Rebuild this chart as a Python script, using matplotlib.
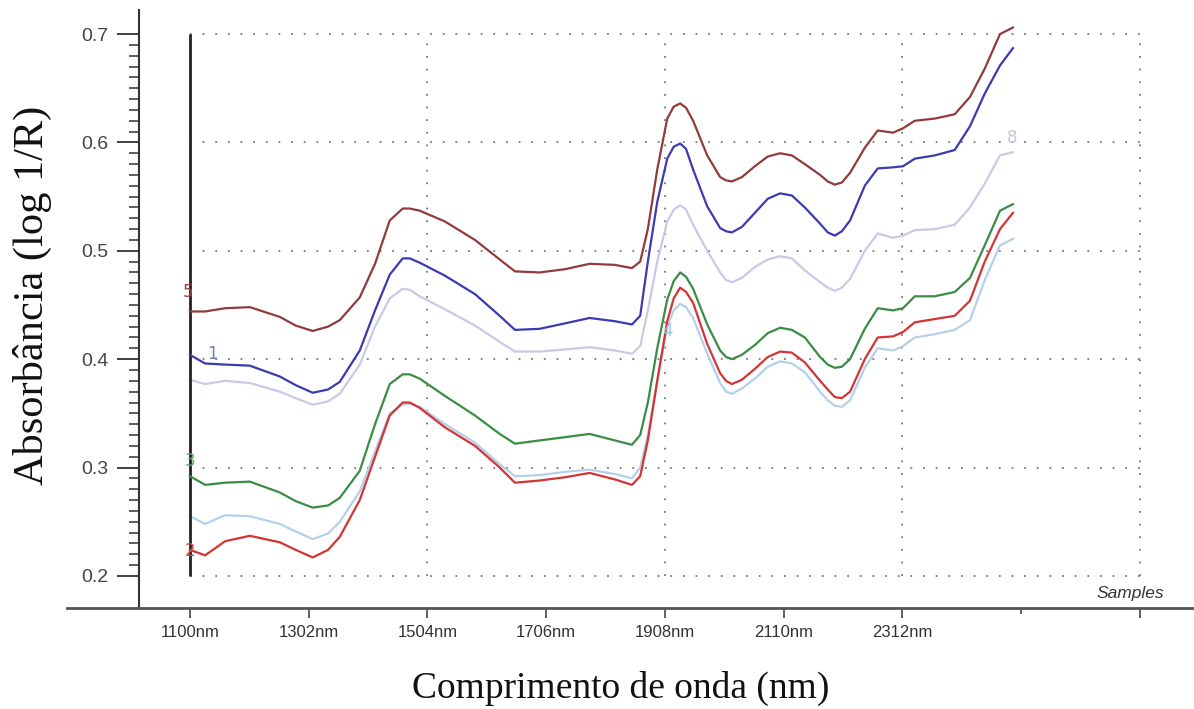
import matplotlib
matplotlib.use("Agg")
import matplotlib.pyplot as plt
from matplotlib.ticker import FixedLocator

# wavelengths (nm)
wl = [1100, 1126, 1160, 1202, 1253, 1280, 1309, 1335, 1355, 1389,
      1415, 1440, 1462, 1474, 1491, 1534, 1585, 1627, 1653, 1695,
      1738, 1780, 1823, 1852, 1866, 1879, 1895, 1912, 1923, 1934,
      1944, 1956, 1980, 2002, 2012, 2022, 2039, 2061, 2083, 2104,
      2124, 2146, 2172, 2185, 2197, 2209, 2223, 2248, 2270, 2296,
      2313, 2333, 2367, 2401, 2427, 2452, 2478, 2500]

s5 = [0.444, 0.444, 0.447, 0.448, 0.439, 0.431, 0.426, 0.430, 0.436, 0.457,
      0.488, 0.528, 0.539, 0.539, 0.537, 0.527, 0.510, 0.492, 0.481, 0.480,
      0.483, 0.488, 0.487, 0.484, 0.490, 0.520, 0.575, 0.622, 0.633, 0.636,
      0.632, 0.620, 0.588, 0.568, 0.565, 0.564, 0.568, 0.578, 0.587, 0.590,
      0.588, 0.580, 0.570, 0.564, 0.561, 0.563, 0.572, 0.595, 0.611, 0.609,
      0.613, 0.620, 0.622, 0.626, 0.642, 0.668, 0.700, 0.706]
s1 = [0.404, 0.396, 0.395, 0.394, 0.384, 0.376, 0.369, 0.372, 0.379, 0.408,
      0.445, 0.478, 0.493, 0.493, 0.489, 0.477, 0.460, 0.440, 0.427, 0.428,
      0.433, 0.438, 0.435, 0.432, 0.440, 0.490, 0.545, 0.585, 0.596, 0.599,
      0.594, 0.575, 0.541, 0.521, 0.518, 0.517, 0.522, 0.535, 0.548, 0.553,
      0.551, 0.540, 0.525, 0.517, 0.514, 0.518, 0.528, 0.560, 0.576, 0.577,
      0.578, 0.585, 0.588, 0.593, 0.615, 0.645, 0.671, 0.687]
s8 = [0.381, 0.377, 0.380, 0.378, 0.370, 0.364, 0.358, 0.361, 0.368, 0.395,
      0.430, 0.456, 0.465, 0.464, 0.458, 0.446, 0.431, 0.416, 0.407, 0.407,
      0.409, 0.411, 0.408, 0.405, 0.412, 0.445, 0.490, 0.527, 0.538, 0.542,
      0.538, 0.524, 0.500, 0.480, 0.473, 0.471, 0.475, 0.485, 0.492, 0.495,
      0.493, 0.482, 0.471, 0.466, 0.463, 0.466, 0.474, 0.500, 0.516, 0.512,
      0.514, 0.519, 0.520, 0.524, 0.540, 0.562, 0.588, 0.591]
s3 = [0.292, 0.284, 0.286, 0.287, 0.277, 0.269, 0.263, 0.265, 0.272, 0.297,
      0.340, 0.377, 0.386, 0.386, 0.382, 0.366, 0.348, 0.331, 0.322, 0.325,
      0.328, 0.331, 0.325, 0.321, 0.330, 0.360, 0.410, 0.455, 0.472, 0.480,
      0.476, 0.465, 0.432, 0.408, 0.402, 0.400, 0.404, 0.413, 0.424, 0.429,
      0.427, 0.420, 0.402, 0.395, 0.392, 0.393, 0.400, 0.428, 0.447, 0.445,
      0.447, 0.458, 0.458, 0.462, 0.475, 0.505, 0.537, 0.543]
s4 = [0.255, 0.248, 0.256, 0.255, 0.248, 0.241, 0.234, 0.239, 0.250, 0.278,
      0.315, 0.350, 0.358, 0.359, 0.356, 0.340, 0.323, 0.303, 0.292, 0.293,
      0.296, 0.298, 0.294, 0.290, 0.300, 0.330, 0.380, 0.430, 0.445, 0.451,
      0.448, 0.438, 0.405, 0.378, 0.370, 0.368, 0.373, 0.382, 0.393, 0.398,
      0.396, 0.388, 0.370, 0.362, 0.357, 0.356, 0.362, 0.392, 0.410, 0.408,
      0.412, 0.420, 0.423, 0.427, 0.436, 0.473, 0.505, 0.511]
s2 = [0.224, 0.219, 0.232, 0.237, 0.231, 0.224, 0.217, 0.224, 0.236, 0.270,
      0.310, 0.348, 0.360, 0.360, 0.355, 0.337, 0.320, 0.300, 0.286, 0.288,
      0.291, 0.295, 0.289, 0.284, 0.292, 0.325, 0.380, 0.435, 0.456, 0.466,
      0.462, 0.452, 0.414, 0.387, 0.380, 0.377, 0.381, 0.391, 0.402, 0.407,
      0.406, 0.397, 0.380, 0.372, 0.365, 0.364, 0.370, 0.400, 0.420, 0.421,
      0.425, 0.434, 0.437, 0.440, 0.454, 0.490, 0.520, 0.535]

xticks = [1100, 1302, 1504, 1706, 1908, 2110, 2312, 2716]
xlabels = ["1100nm", "1302nm", "1504nm", "1706nm", "1908nm", "2110nm", "2312nm", ""]
yticks = [0.2, 0.3, 0.4, 0.5, 0.6, 0.7]

fig = plt.figure(figsize=(11.94, 7.09), dpi=100)
ax = fig.add_axes([0.0561, 0.1425, 0.9439, 0.8434])
ax.set_xlim(891, 2808)
ax.set_ylim(0.1704, 0.7222)

# grid: dotted, drawn by hand so it stops where the original does
dot = dict(color="#777777", lw=1.3, ls=(0, (1, 6)), zorder=1)
ax.hlines(yticks, 1100, 2716, **dot)
ax.vlines([1504, 1908, 2312, 2716], 0.2, 0.7, **dot)
ax.vlines(1100, 0.2, 0.7, color="#222222", lw=2, zorder=3)

# light curves first, then the darker ones on top
ln = dict(lw=1.6, solid_joinstyle="round")
ax.plot(wl, s8, color="#c9c9e8", zorder=2, **ln)
ax.plot(wl, s4, color="#b5d0ea", zorder=2, **ln)
ax.plot(wl, s5, color="#923b3b", zorder=4, **ln)
ax.plot(wl, s1, color="#3b3bb0", zorder=4, **ln)
ax.plot(wl, s3, color="#3b8c45", zorder=4, **ln)
ax.plot(wl, s2, color="#d43434", zorder=4, **ln)

# curve numbers
lab = dict(fontsize=12, ha="center", va="center", zorder=5)
ax.text(1097, 0.462, "5", color="#9b4a4a", **lab)
ax.text(1139, 0.405, "1", color="#7080b8", **lab)
ax.text(1100, 0.306, "3", color="#55a865", **lab)
ax.text(1100, 0.223, "2", color="#d04a4a", **lab)
ax.text(2498, 0.604, "8", color="#c4c4e2", **lab)
ax.text(1913, 0.426, "4", color="#9cc8de", **lab)

ax.text(2699, 0.1834, "Samples", fontsize=12.5, style="italic", color="#333333",
        ha="center", va="center", family="Liberation Sans")

# axes lines
for s in ["top", "right"]:
    ax.spines[s].set_visible(False)
ax.spines["left"].set_position(("data", 1014))
ax.spines["left"].set_color("#333333")
ax.spines["left"].set_linewidth(1.5)
ax.spines["bottom"].set_color("#555555")
ax.spines["bottom"].set_linewidth(2)

ax.set_yticks(yticks)
ax.set_yticklabels(["%.1f" % v for v in yticks])
ax.yaxis.set_minor_locator(FixedLocator([0.2 + i * 0.01 for i in range(51)]))
ax.tick_params(axis="y", which="major", length=16, width=1.3, color="#333333",
               labelsize=14, labelcolor="#444444", pad=6)
ax.tick_params(axis="y", which="minor", length=7, width=1.1, color="#333333")

ax.set_xticks(xticks)
ax.set_xticklabels(xlabels)
ax.xaxis.set_minor_locator(FixedLocator([2514]))
ax.tick_params(axis="x", which="major", length=7, width=1.2, color="#444444",
               labelsize=12, labelcolor="#333333", pad=5)
ax.tick_params(axis="x", which="minor", length=4, width=1.2, color="#444444")
for t in ax.get_xticklabels() + ax.get_yticklabels():
    t.set_family("Liberation Sans")

fig.text(0.027, 0.584, "Absorbância (log 1/R)", rotation=90, fontsize=30.5,
         family="Liberation Serif", ha="center", va="center", color="#111111")
fig.text(0.52, 0.029, "Comprimento de onda (nm)", fontsize=27,
         family="Liberation Serif", ha="center", va="center", color="#111111")

fig.savefig("out.png", dpi=100)
